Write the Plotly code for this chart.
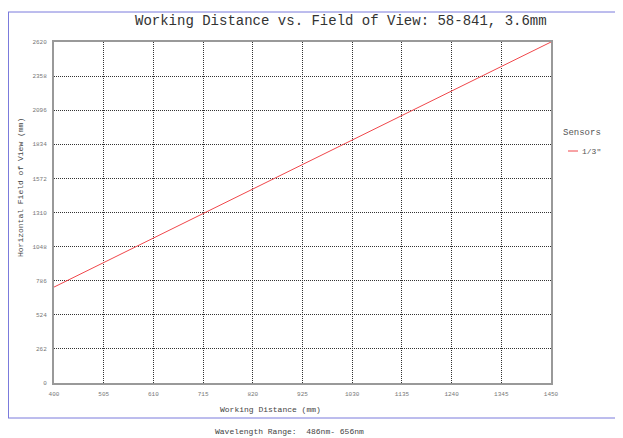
import plotly.graph_objects as go

working_distance = [400, 505, 610, 715, 820, 925, 1030, 1135, 1240, 1345, 1450]
hfov = [737, 925, 1113, 1302, 1490, 1678, 1866, 2055, 2243, 2432, 2620]
x_ticks = [400, 505, 610, 715, 820, 925, 1030, 1135, 1240, 1345, 1450]
y_ticks = [0, 262, 524, 786, 1048, 1310, 1572, 1834, 2096, 2358, 2620]
series_name = '1/3"'

O = 8  # page body margin offset
W, H = 623 - O, 438 - O
L, R, T, B = 54 - O, 551 - O, 42 - O, 383 - O
pw, ph = R - L, B - T

def px(x):
    return (x - O - L) / pw

def py(y):
    return (B - (y - O)) / ph

FONT = "Liberation Mono, Courier New, monospace"
RED = "#f0474b"

fig = go.Figure()
fig.add_trace(go.Scatter(x=working_distance, y=hfov, mode="lines", name=series_name,
                         line=dict(color=RED, width=1), showlegend=False))

grid = dict(showgrid=True, gridcolor="#333", griddash="1px,1px", gridwidth=1,
            showline=True, linecolor="#999", linewidth=2, mirror=True,
            zeroline=False, ticks="", ticklabelstandoff=4, automargin=False,
            tickfont=dict(size=6, color="#777", family=FONT))

fig.update_layout(
    width=W, height=H,
    margin=dict(l=L, r=W - R, t=T, b=H - B),
    paper_bgcolor="white", plot_bgcolor="white",
    font=dict(family=FONT, color="#444"),
    showlegend=False,
    xaxis=dict(range=[400, 1450], tickvals=x_ticks, ticktext=[str(v) for v in x_ticks], **grid),
    yaxis=dict(range=[0, 2620], tickvals=y_ticks, ticktext=[str(v) for v in y_ticks], **grid),
)

BLUE = "#7b7bdc"
fig.add_shape(type="line", xref="paper", yref="paper", x0=px(8), x1=px(640), y0=py(12), y1=py(12),
              line=dict(color=BLUE, width=1))
fig.add_shape(type="line", xref="paper", yref="paper", x0=px(8.5), x1=px(8.5), y0=py(12), y1=py(418),
              line=dict(color=BLUE, width=1))
fig.add_shape(type="line", xref="paper", yref="paper", x0=px(8), x1=px(640), y0=py(418), y1=py(418),
              line=dict(color=BLUE, width=1))

# legend (manual)
fig.add_shape(type="line", xref="paper", yref="paper", x0=px(568), x1=px(578), y0=py(151), y1=py(151),
              line=dict(color=RED, width=1))

annos = [
    dict(text="Working Distance vs. Field of View: 58-841, 3.6mm", x=341, y=21, size=14, color="#333", xa="center"),
    dict(text="Working Distance (mm)", x=270, y=409, size=8, color="#444", xa="center"),
    dict(text="Wavelength Range:  486nm- 656nm", x=289, y=431, size=8, color="#444", xa="center"),
    dict(text="Sensors", x=561, y=133, size=9, color="#555", xa="left"),
    dict(text=series_name, x=580, y=151, size=8, color="#555", xa="left"),
]
for a in annos:
    fig.add_annotation(text=a["text"], xref="paper", yref="paper", x=px(a["x"]), y=py(a["y"]),
                       xanchor=a["xa"], yanchor="middle", showarrow=False,
                       font=dict(size=a["size"], color=a["color"], family=FONT))
fig.add_annotation(text="Horizontal Field of View (mm)", xref="paper", yref="paper",
                   x=px(21), y=py(188), xanchor="center", yanchor="middle", showarrow=False,
                   textangle=-90, font=dict(size=8, color="#444", family=FONT))

fig.write_html("out.html")
